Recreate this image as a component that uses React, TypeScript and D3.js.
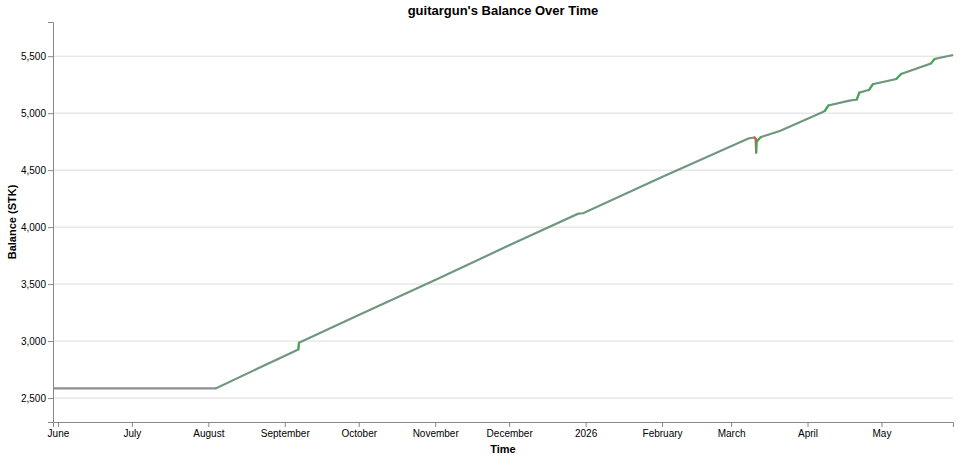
import { useEffect, useRef } from "react";
import * as d3 from "d3";

// balance snapshots (UTC)
const DATES = [
  "2025-05-30 00:00", "2025-08-04 00:00", "2025-09-06 12:00", "2025-09-06 18:00",
  "2025-10-01 00:00", "2025-11-01 00:00", "2025-12-01 00:00", "2025-12-29 00:00",
  "2025-12-31 00:00", "2026-02-01 00:00", "2026-03-08 00:00", "2026-03-10 12:00",
  "2026-03-11 00:00", "2026-03-11 04:00", "2026-03-11 08:00", "2026-03-13 00:00",
  "2026-03-16 00:00", "2026-03-21 00:00", "2026-04-07 00:00", "2026-04-08 00:00",
  "2026-04-09 12:00", "2026-04-18 00:00", "2026-04-21 00:00", "2026-04-22 00:00",
  "2026-04-26 00:00", "2026-04-27 12:00", "2026-05-07 00:00", "2026-05-09 00:00",
  "2026-05-21 00:00", "2026-05-22 12:00", "2026-05-30 00:00",
];
const BALANCES = [
  2585, 2585, 2927, 2985,
  3229, 3537, 3840, 4118,
  4122, 4440, 4778, 4787,
  4772, 4652, 4748, 4790,
  4810, 4845, 5008, 5020,
  5068, 5110, 5120, 5180,
  5205, 5255, 5300, 5345,
  5435, 5475, 5510,
];
const X_DOMAIN = ["2025-05-30 00:00", "2026-05-30 00:00"];
const Y_DOMAIN = [2290, 5800];
const Y_TICKS = [2500, 3000, 3500, 4000, 4500, 5000, 5500];

const FONT = "'Liberation Sans', Arial, Helvetica, sans-serif";

export default function App() {
  const svgRef = useRef<SVGSVGElement>(null);

  useEffect(() => {
    if (!svgRef.current) return;
    const W = 960, H = 459;
    const m = { top: 22, right: 7, bottom: 37, left: 53 };
    const iW = W - m.left - m.right;
    const iH = H - m.top - m.bottom;
    const parse = d3.utcParse("%Y-%m-%d %H:%M");

    const data = DATES.map((d, i) => ({ t: parse(d)!, v: BALANCES[i] }));

    const root = d3.select(svgRef.current);
    root.selectAll("*").remove();
    const svg = root.append("g").attr("transform", `translate(${m.left},${m.top})`);

    const x = d3.scaleUtc().domain(X_DOMAIN.map(d => parse(d)!)).range([0, iW]);
    const y = d3.scaleLinear().domain(Y_DOMAIN).range([iH, 0]);

    // grid
    svg.selectAll(".grid")
      .data(Y_TICKS)
      .join("line")
      .attr("x1", 0).attr("x2", iW)
      .attr("y1", d => y(d)).attr("y2", d => y(d))
      .attr("stroke", "#ddd").attr("stroke-width", 1);

    // axes
    const fmtMonth = (d: Date) =>
      d.getUTCMonth() === 0 ? d3.utcFormat("%Y")(d) : d3.utcFormat("%B")(d);

    const gx = svg.append("g")
      .attr("transform", `translate(0,${iH})`)
      .call(d3.axisBottom(x).ticks(d3.utcMonth.every(1)).tickFormat(fmtMonth as any).tickSize(5).tickPadding(3));
    gx.select(".domain").attr("stroke", "#888");
    gx.selectAll(".tick line").attr("stroke", "#888");
    gx.selectAll("text").style("fill", "#000").style("font-size", "10px").style("font-family", FONT);

    const gy = svg.append("g")
      .call(d3.axisLeft(y).tickValues(Y_TICKS).tickFormat(d3.format(",") as any).tickSize(5).tickPadding(2));
    gy.select(".domain").attr("stroke", "#888");
    gy.selectAll(".tick line").attr("stroke", "#888");
    gy.selectAll("text").style("fill", "#000").style("font-size", "10px").style("font-family", FONT);

    // base line
    const line = d3.line<typeof data[0]>().x(d => x(d.t)).y(d => y(d.v));
    svg.append("path")
      .datum(data)
      .attr("fill", "none")
      .attr("stroke", "#8a8f98")
      .attr("stroke-width", 2.2)
      .attr("d", line);

    // gain / loss overlays
    const segs = d3.pairs(data).filter(([a, b]) => b.v !== a.v);
    svg.selectAll(".seg")
      .data(segs)
      .join("line")
      .attr("x1", ([a]) => x(a.t)).attr("y1", ([a]) => y(a.v))
      .attr("x2", ([, b]) => x(b.t)).attr("y2", ([, b]) => y(b.v))
      .attr("stroke", ([a, b]) => (b.v > a.v ? "#3cae4a" : "#e0504a"))
      .attr("stroke-linecap", "round")
      .each(function ([a, b]) {
        const dx = Math.abs(x(b.t) - x(a.t));
        const dy = Math.abs(y(b.v) - y(a.v));
        const steep = dy > dx;
        d3.select(this)
          .attr("stroke-width", steep ? 2 : 1.3)
          .attr("stroke-opacity", steep ? 0.95 : 0.55)
          .attr("stroke-dasharray", steep ? null : "3,1.5");
      });

    // titles
    root.append("text")
      .attr("x", m.left + iW / 2).attr("y", 15)
      .attr("text-anchor", "middle")
      .style("font-family", FONT).style("font-size", "13px").style("font-weight", "bold")
      .text("guitargun's Balance Over Time");

    root.append("text")
      .attr("x", m.left + iW / 2).attr("y", 453)
      .attr("text-anchor", "middle")
      .style("font-family", FONT).style("font-size", "11px").style("font-weight", "bold")
      .text("Time");

    root.append("text")
      .attr("transform", `translate(16,${m.top + iH / 2}) rotate(-90)`)
      .attr("text-anchor", "middle")
      .style("font-family", FONT).style("font-size", "11px").style("font-weight", "bold")
      .text("Balance (STK)");
  }, []);

  return (
    <svg
      ref={svgRef}
      width={960}
      height={459}
      style={{ position: "absolute", left: 0, top: 0, display: "block", background: "#fff" }}
    />
  );
}
